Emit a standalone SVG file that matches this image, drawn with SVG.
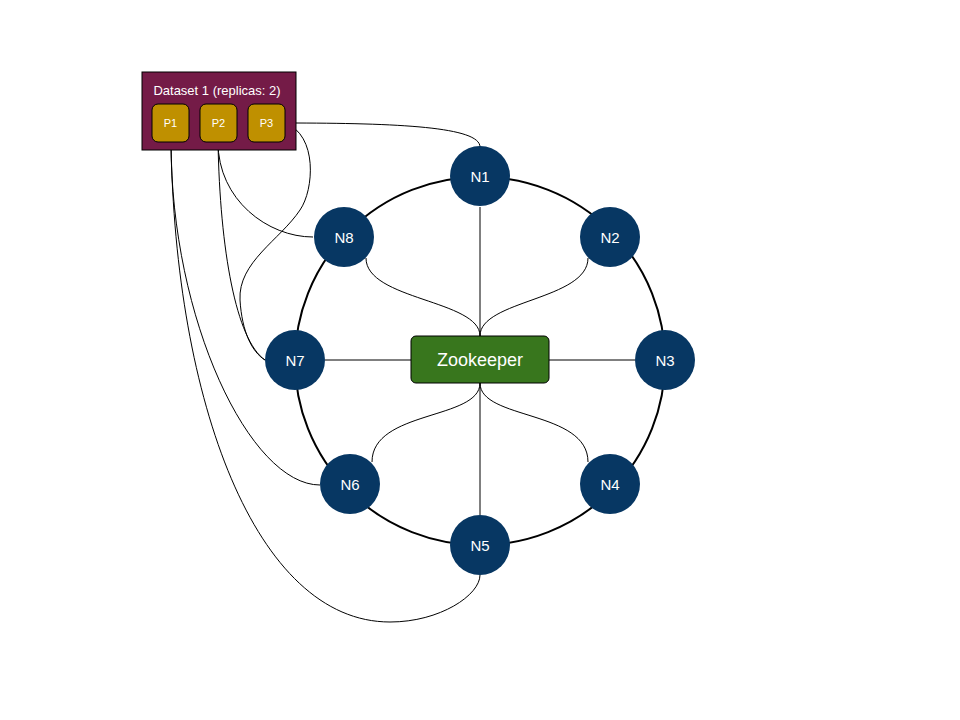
<svg xmlns="http://www.w3.org/2000/svg" width="960" height="720" viewBox="0 0 960 720">
<style>
.node circle{fill:#073763;stroke:none}
.lbl{font-family:"Liberation Sans",Arial,sans-serif;fill:#fff;text-anchor:middle;dominant-baseline:central}
.n{font-size:15px}
.e{fill:none;stroke:#000;stroke-width:1}
.p rect{fill:#bf9000;stroke:#000;stroke-width:1}
</style>
<rect width="960" height="720" fill="#fff"/>
<g id="connectors">
<ellipse cx="480" cy="361" rx="185" ry="184" fill="none" stroke="#000" stroke-width="2"/>
<path class="e" d="M480,336 L480,207"/>
<path class="e" d="M480,336 C480,300 366,300 366,258"/>
<path class="e" d="M480,336 C480,300 588,300 588,258"/>
<path class="e" d="M411,360 L325,360"/>
<path class="e" d="M549,360 L635,360"/>
<path class="e" d="M480,383 L480,515"/>
<path class="e" d="M480,383 C480,420 372,410 372,462"/>
<path class="e" d="M480,383 C480,420 588,410 588,462"/>
<path class="e" d="M285,123 C400,123 480,127 480,147"/>
<path class="e" d="M285,123 C318,135 314,190 300,210 C280,240 238,262 240,300 C242,332 252,352 265,360"/>
<path class="e" d="M218,142 C218,200 268,237 313,237"/>
<path class="e" d="M218,142 C220,250 236,340 265,360"/>
<path class="e" d="M171,142 C171,320 250,485 320,485"/>
<path class="e" d="M171,142 C175,400 255,622 390,622 C440,622 480,595 480,575"/>
</g>
<g id="dataset">
<rect x="142" y="72" width="154" height="78" fill="#741b47" stroke="#000" stroke-width="1"/>
<text class="lbl" x="217" y="90" font-size="13">Dataset 1 (replicas: 2)</text>
</g>
<g id="P1" class="p"><rect x="152" y="104" width="37" height="38" rx="6"/><text class="lbl" x="170.5" y="123" font-size="11">P1</text></g>
<g id="P2" class="p"><rect x="200" y="104" width="37" height="38" rx="6"/><text class="lbl" x="218.5" y="123" font-size="11">P2</text></g>
<g id="P3" class="p"><rect x="248" y="104" width="37" height="38" rx="6"/><text class="lbl" x="266.5" y="123" font-size="11">P3</text></g>
<g id="zookeeper">
<rect x="411" y="336" width="138" height="47" rx="5" fill="#38761d" stroke="#000" stroke-width="1"/>
<text class="lbl" x="480" y="360" font-size="18">Zookeeper</text>
</g>
<g id="N1" class="node"><circle cx="480" cy="176" r="30"/><text class="lbl n" x="480" y="176">N1</text></g>
<g id="N2" class="node"><circle cx="610" cy="237" r="30"/><text class="lbl n" x="610" y="237">N2</text></g>
<g id="N3" class="node"><circle cx="665" cy="360" r="30"/><text class="lbl n" x="665" y="360">N3</text></g>
<g id="N4" class="node"><circle cx="610" cy="484" r="30"/><text class="lbl n" x="610" y="484">N4</text></g>
<g id="N5" class="node"><circle cx="480" cy="545" r="30"/><text class="lbl n" x="480" y="545">N5</text></g>
<g id="N6" class="node"><circle cx="350" cy="484" r="30"/><text class="lbl n" x="350" y="484">N6</text></g>
<g id="N7" class="node"><circle cx="295" cy="360" r="30"/><text class="lbl n" x="295" y="360">N7</text></g>
<g id="N8" class="node"><circle cx="344" cy="237" r="30"/><text class="lbl n" x="344" y="237">N8</text></g>
</svg>
